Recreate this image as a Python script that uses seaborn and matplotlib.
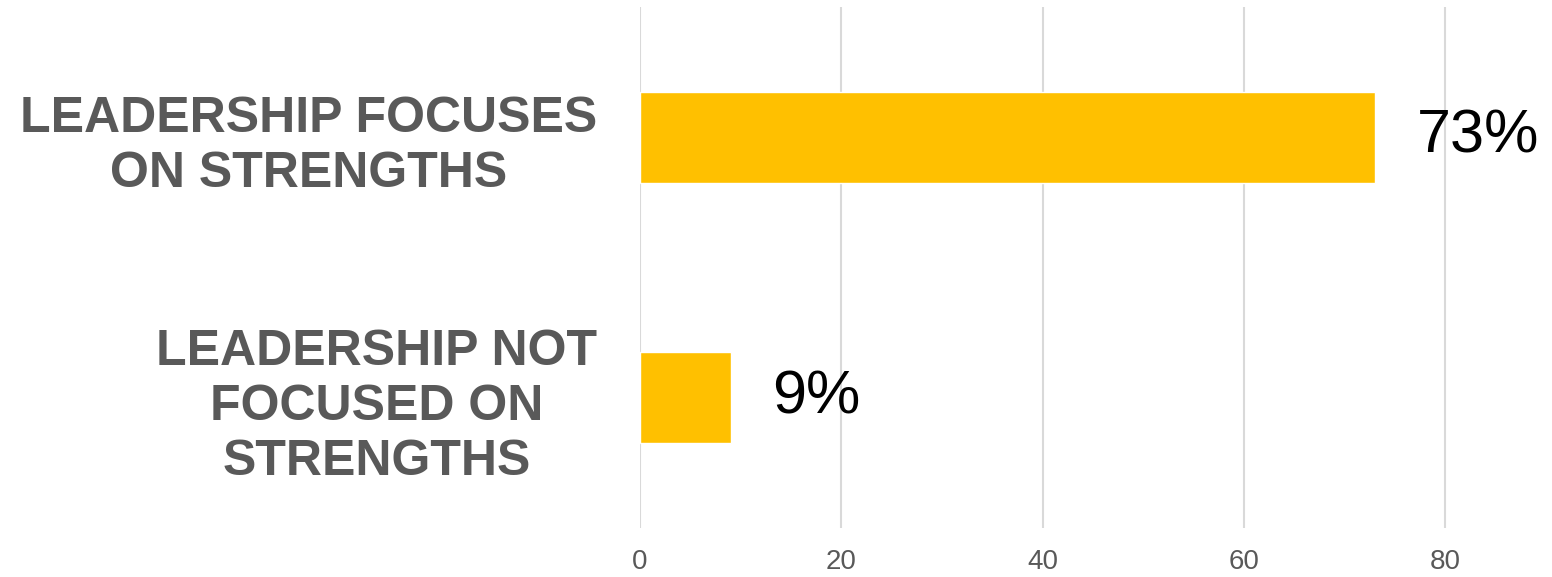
import matplotlib
matplotlib.use("Agg")
import matplotlib.pyplot as plt
import seaborn as sns
import pandas as pd

categories = ["LEADERSHIP FOCUSES\nON STRENGTHS", "LEADERSHIP NOT\nFOCUSED ON\nSTRENGTHS"]
values = [73, 9]
value_labels = ["73%", "9%"]
x_ticks = [0, 20, 40, 60, 80]

sns.set_theme(style="white")
plt.rcParams['font.family'] = ['Liberation Sans', 'DejaVu Sans']

df = pd.DataFrame({"category": categories, "value": values})

fig = plt.figure(figsize=(15.52, 5.77), dpi=100)
ax = fig.add_axes([640/1552, 1-528/577, 1-640/1552, (528-7)/577])

sns.barplot(data=df, x="value", y="category", orient="h", color="#FFC000",
            saturation=1, width=0.35, ax=ax, zorder=3)

ax.set_xlim(0, 90.6)
ax.set_ylim(1.5, -0.5)
ax.set_xticks(x_ticks)
ax.set_xticklabels([str(t) for t in x_ticks])
ax.set_xlabel("")
ax.set_ylabel("")
ax.grid(axis="x", color="#d9d9d9", linewidth=1.5, zorder=0)
ax.grid(axis="y", visible=False)
for s in ax.spines.values():
    s.set_visible(False)

ax.tick_params(axis="x", length=0, pad=15, labelsize=20, labelcolor="#595959")
ax.tick_params(axis="y", length=0, pad=31, labelsize=36, labelcolor="#595959")
for lbl in ax.get_yticklabels():
    lbl.set_fontweight("bold")
    lbl.set_multialignment("center")
    lbl.set_linespacing(1.25)

for i, (v, t) in enumerate(zip(values, value_labels)):
    ax.annotate(t, xy=(v, i), xytext=(30, 0), textcoords="offset points",
                ha="left", va="center", fontsize=44, color="black")

fig.savefig("out.png", dpi=100)
